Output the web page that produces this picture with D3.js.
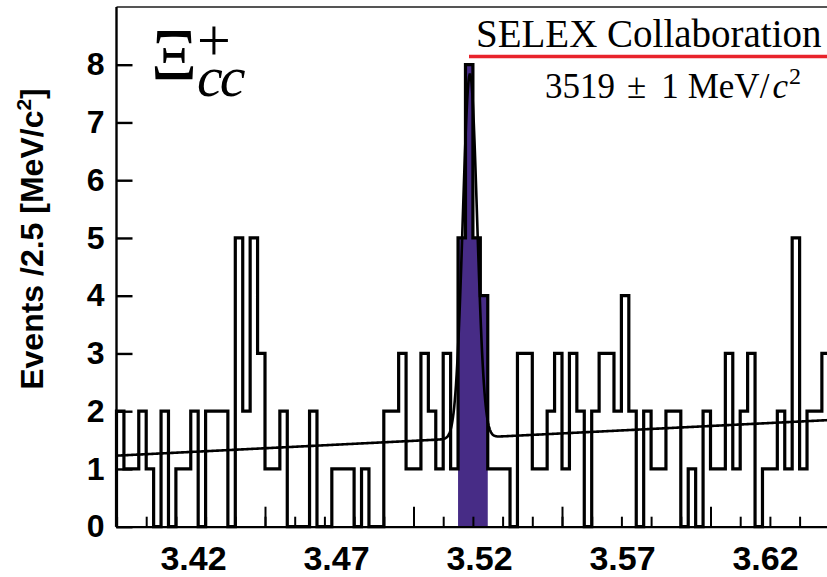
<!DOCTYPE html>
<html>
<head>
<meta charset="utf-8">
<script src="https://cdn.jsdelivr.net/npm/d3@7"></script>
<style>
  body { margin: 0; background: #fff; }
  svg { display: block; }
</style>
</head>
<body>
<svg id="chart" width="827" height="577"></svg>
<script>
// Xi_cc+ candidate mass spectrum: 2.5 MeV/c^2 bins from 3.400 to 3.640 GeV/c^2
const binStart = 3.40;
const binWidth = 0.0025;
const counts = [
  2, 1, 1, 2, 1, 0, 2, 0, 1, 1, 2, 0, 2, 2, 2, 0,
  5, 2, 5, 3,
  1, 1, 2, 0, 0, 0, 2, 0, 0, 1, 1, 1,
  0, 1, 0, 0, 2, 2, 3, 1, 1, 3, 2, 1, 3, 1,
  5, 8, 5, 4,
  1, 1, 1, 0, 3, 3, 1,
  1, 2, 3, 1, 3, 2, 0, 2, 3, 3, 2, 4, 2, 0, 2, 1, 1, 2, 2, 0,
  1, 0, 2, 1, 1, 3, 1, 2, 3, 0, 1, 1, 2, 1, 5, 1, 2, 2, 3
];
// signal window (filled bins)
const signalWindow = [3.515, 3.525];

// axis ticks
const xTickLabels = [3.42, 3.47, 3.52, 3.57, 3.62];
const xMinorTicks = d3.range(0, 25).map(i => +(3.40 + i * 0.01).toFixed(2));
const xMajorTicks = [3.40, 3.45, 3.50, 3.55, 3.60];
const yTickLabels = [0, 1, 2, 3, 4, 5, 6, 7, 8];

// fit result: Gaussian peak on a linear background (events per bin)
const fitMass = 3.519;
const fitSigma = 0.0024;
const fitAmplitude = 6.3;
const bgAt340 = 1.23;
const bgSlope = 2.57;

const svg = d3.select("#chart");
const sans = "'Liberation Sans', Arial, Helvetica, sans-serif";
const serif = "'Liberation Serif', 'Times New Roman', serif";

const x = d3.scaleLinear().domain([3.40, 3.64]).range([116.5, 829.3]);
const y = d3.scaleLinear().domain([0, 9]).range([526.7, 6.95]);
// printed label positions along the mass axis
const xLabelPos = d3.scaleLinear().domain([3.42, 3.62]).range([193, 765]);

// bins
const bins = counts.map((c, i) => ({ lo: binStart + i * binWidth, hi: binStart + (i + 1) * binWidth, c }));

function stepPoints(list) {
  const pts = [[list[0].lo, 0]];
  list.forEach(b => pts.push([b.lo, b.c]));
  const last = list[list.length - 1];
  pts.push([last.hi, last.c]);
  pts.push([last.hi, 0]);
  return pts;
}

const step = d3.line()
  .x(d => x(d[0]))
  .y(d => y(d[1]))
  .curve(d3.curveStepAfter);

// filled signal bins
const sigBins = bins.filter(b => b.lo >= signalWindow[0] - 1e-9 && b.hi <= signalWindow[1] + 1e-9);
svg.append("path")
  .attr("d", step(stepPoints(sigBins)))
  .attr("fill", "#472c86")
  .attr("stroke", "none");

// histogram outline
svg.append("path")
  .attr("d", step(stepPoints(bins)))
  .attr("fill", "none")
  .attr("stroke", "#000")
  .attr("stroke-width", 3.2)
  .attr("stroke-linejoin", "miter");

// fit curve
const fitFn = m => bgAt340 + bgSlope * (m - 3.40) +
  fitAmplitude * Math.exp(-0.5 * Math.pow((m - fitMass) / fitSigma, 2));
const fitPts = d3.range(3.4005, 3.64, 0.0002).map(m => [m, fitFn(m)]);
svg.append("path")
  .attr("d", d3.line().x(d => x(d[0])).y(d => y(d[1]))(fitPts))
  .attr("fill", "none")
  .attr("stroke", "#000")
  .attr("stroke-width", 2.6);

// top frame
svg.append("line")
  .attr("x1", x(3.40)).attr("x2", x(3.64))
  .attr("y1", y(9)).attr("y2", y(9))
  .attr("stroke", "#555").attr("stroke-width", 2);

// bottom axis: minor and major ticks pointing inward
const gx = svg.append("g").attr("transform", `translate(0,${y(0)})`);
gx.call(d3.axisBottom(x).tickValues(xMinorTicks).tickSize(-10).tickFormat(""));
gx.append("g").call(d3.axisBottom(x).tickValues(xMajorTicks).tickSize(-20).tickFormat(""))
  .select(".domain").remove();
gx.selectAll(".domain").attr("stroke", "#000").attr("stroke-width", 2.2);
gx.selectAll(".tick line").attr("stroke", "#000").attr("stroke-width", 2);

// bottom axis labels
const gxl = svg.append("g").attr("transform", `translate(0,${y(0)})`);
gxl.call(d3.axisBottom(xLabelPos).tickValues(xTickLabels).tickSize(0).tickPadding(19)
  .tickFormat(d3.format(".2f")));
gxl.select(".domain").remove();
gxl.selectAll("text")
  .attr("font-family", sans).attr("font-weight", "bold").attr("font-size", 34)
  .attr("fill", "#000");

// left axis
const gy = svg.append("g").attr("transform", `translate(${x(3.40)},0)`);
gy.call(d3.axisLeft(y).tickValues(yTickLabels).tickSize(-16).tickPadding(12)
  .tickFormat(d3.format("d")));
gy.select(".domain").attr("d", `M0,${y(0)}V${y(9)}`).attr("stroke", "#000").attr("stroke-width", 2.4);
gy.selectAll(".tick line").attr("stroke", "#000").attr("stroke-width", 2.4);
gy.selectAll("text")
  .attr("font-family", sans).attr("font-weight", "bold").attr("font-size", 32)
  .attr("fill", "#000");

// y axis title
const yt = svg.append("text")
  .attr("transform", "translate(43,239) rotate(-90)")
  .attr("text-anchor", "middle")
  .attr("font-family", sans).attr("font-weight", "bold").attr("font-size", 32)
  .attr("fill", "#000");
yt.append("tspan").text("Events /2.5 [MeV/c");
yt.append("tspan").attr("dy", -12).attr("font-size", 21).text("2");
yt.append("tspan").attr("dy", 12).text("]");

// particle label: Xi with charge superscript and cc subscript
const pl = svg.append("text").attr("font-family", serif).attr("fill", "#000");
pl.append("tspan").attr("x", 151).attr("y", 80).attr("font-size", 73)
  .attr("textLength", 46).attr("lengthAdjust", "spacingAndGlyphs").text("Ξ");
pl.append("tspan").attr("x", 197).attr("y", 60).attr("font-size", 60).text("+");
pl.append("tspan").attr("x", 197).attr("y", 96).attr("font-size", 58)
  .attr("font-style", "italic").attr("letter-spacing", -3).text("cc");

// collaboration label
svg.append("text")
  .attr("x", 476).attr("y", 47)
  .attr("font-family", serif).attr("font-size", 39).attr("fill", "#000")
  .text("SELEX Collaboration");
svg.append("line")
  .attr("x1", 469).attr("x2", 827).attr("y1", 56.5).attr("y2", 56.5)
  .attr("stroke", "#e8232b").attr("stroke-width", 3.5);

// fitted mass
const mt = svg.append("text")
  .attr("x", 545).attr("y", 98)
  .attr("font-family", serif).attr("font-size", 35).attr("fill", "#000");
mt.append("tspan").text(`${Math.round(fitMass * 1000)}`);
mt.append("tspan").attr("dx", 12).text("±");
mt.append("tspan").attr("dx", 15).text("1");
mt.append("tspan").attr("dx", 9).text("MeV/");
mt.append("tspan").attr("dx", 3).attr("font-style", "italic").text("c");
mt.append("tspan").attr("dy", -14).attr("dx", 1).attr("font-size", 24).text("2");
</script>
</body>
</html>
